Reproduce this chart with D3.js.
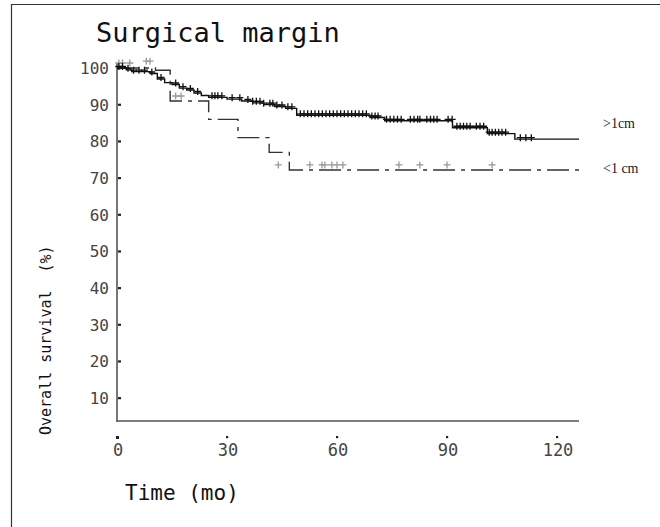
<!doctype html>
<html lang="en">
<head>
  <meta charset="utf-8">
  <title>Surgical margin</title>
  <script src="https://d3js.org/d3.v7.min.js"></script>
  <style>
    body { margin: 0; background: #fff; }
    svg { display: block; }
    .mono { font-family: 'DejaVu Sans Mono', monospace; }
  </style>
</head>
<body>
<svg id="chart" width="660" height="527"></svg>
<script>
// >1cm group (solid), step times (mo) and survival (%)
const wideT = [0, 2.5, 4, 9, 11, 13, 15, 17, 19, 21, 23, 25, 30, 34, 37, 40, 43, 46, 49, 69, 73, 91.5, 101, 108.5, 126];
const wideS = [100, 99.5, 99, 98.5, 97, 96, 95.5, 94.5, 94, 93.2, 92.5, 92, 91.5, 91, 90.5, 90, 89.5, 89, 87.1, 86.5, 85.6, 83.7, 82.1, 80.6, 80.6];
const wideCensor = [0.5, 1.5, 3, 4.5, 6, 7.5, 9.5, 12, 16, 18, 20, 22, 25.9, 26.7, 27.5, 28.6, 31.4, 33.5, 35.7,
  37, 38, 39, 40, 41.7, 42.5, 43.6, 45, 46.6, 47.7, 50, 51, 52, 53, 54, 55, 56, 57, 58, 59, 60, 61, 62, 63,
  64, 65, 66, 67, 68, 69.5, 70.4, 71.2, 73.5, 74.5, 75.5, 76.5, 77.5, 80, 81, 82, 82.6, 84.5, 85.5, 86.4, 87.3,
  90.3, 91.4, 92.7, 93.6, 94.5, 95.4, 96.3, 98, 99, 100, 101.5, 102.3, 103.2, 104.1, 105, 106, 110, 111.5, 113];

// <1 cm group (dash-dot)
const narrowT = [0, 10.5, 14.5, 25, 33, 41.5, 47, 126];
const narrowS = [100, 99.4, 91, 86, 81, 77, 72.2, 72.2];
const narrowCensorT = [0.5, 1.5, 3.5, 8, 9, 16, 17.5, 44, 52.6, 55.9, 56.7, 58.6, 60, 61.6, 76.9, 82.6, 90, 102.3];
const narrowCensorS = [100, 100, 100, 100.5, 100.5, 91, 91, 72.2, 72.2, 72.2, 72.2, 72.2, 72.2, 72.2, 72.2, 72.2, 72.2, 72.2];

const xTicks = [0, 30, 60, 90, 120];
const yTicks = [10, 20, 30, 40, 50, 60, 70, 80, 90, 100];

const svg = d3.select("#chart");

// frame
svg.append("path").attr("d", "M11.5,527V4.5H660").attr("fill", "none").attr("stroke", "#333").attr("stroke-width", 1.2);

const x = d3.scaleLinear().domain([0, 126]).range([117, 579]);
const y = d3.scaleLinear().domain([0, 100]).range([434.7, 68]);

// axes lines
svg.append("line").attr("x1", x(0)).attr("x2", x(0)).attr("y1", 63).attr("y2", 422)
  .attr("stroke", "#555").attr("stroke-width", 1.6);
svg.append("line").attr("x1", x(0)).attr("x2", x(126)).attr("y1", 421).attr("y2", 421)
  .attr("stroke", "#555").attr("stroke-width", 1.6);

// y ticks + labels
svg.selectAll("rect.yt").data(yTicks).enter().append("rect")
  .attr("x", x(0) + 1).attr("y", d => y(d) - 1).attr("width", 3).attr("height", 2.2).attr("fill", "#222");
svg.selectAll("text.yl").data(yTicks).enter().append("text")
  .attr("class", "mono").attr("x", 109).attr("y", d => y(d) + 6)
  .attr("text-anchor", "end").attr("font-size", 16).attr("fill", "#444")
  .text(d => d);

// x ticks + labels
svg.selectAll("rect.xt").data(xTicks).enter().append("rect")
  .attr("x", d => x(d) - 1).attr("y", 436).attr("width", d => d === 0 ? 3 : 2.2).attr("height", d => d === 0 ? 3 : 2.2)
  .attr("fill", "#222");
svg.selectAll("text.xl").data(xTicks).enter().append("text")
  .attr("class", "mono").attr("x", d => x(d) + 1).attr("y", 456)
  .attr("text-anchor", "middle").attr("font-size", 17).attr("fill", "#444")
  .text(d => d);

// curves
const line = d3.line().x(d => x(d[0])).y(d => y(d[1])).curve(d3.curveStepAfter);
const wide = wideT.map((t, i) => [t, wideS[i]]);
const narrow = narrowT.map((t, i) => [t, narrowS[i]]);

svg.append("path").attr("d", line(narrow)).attr("fill", "none")
  .attr("stroke", "#333").attr("stroke-width", 1.4).attr("stroke-dasharray", "22,6,4,6");
svg.append("path").attr("d", line(wide)).attr("fill", "none")
  .attr("stroke", "#111").attr("stroke-width", 1.4);

function stepValue(ts, ss, t) {
  const i = d3.bisectRight(ts, t) - 1;
  return ss[Math.max(0, i)];
}

function plus(g, cx, cy, r, color, w) {
  g.append("path").attr("d", `M${cx - r},${cy}H${cx + r}M${cx},${cy - r}V${cy + r}`)
    .attr("stroke", color).attr("stroke-width", w).attr("fill", "none");
}

const marks = svg.append("g");
narrowCensorT.forEach((t, i) => plus(marks, x(t), y(narrowCensorS[i]) - 5, 3.5, "#999", 1.3));
wideCensor.forEach(t => plus(marks, x(t), y(stepValue(wideT, wideS, t)) - 1.5, 3.5, "#111", 1.3));

// legend labels
svg.append("text").attr("x", 603).attr("y", 128).attr("font-family", "'Liberation Serif', serif")
  .attr("font-size", 14).attr("fill", "#222").text(">1cm");
svg.append("text").attr("x", 603).attr("y", 173).attr("font-family", "'Liberation Serif', serif")
  .attr("font-size", 14).attr("fill", "#222").text("<1 cm");

// title and axis titles
svg.append("text").attr("class", "mono").attr("x", 96).attr("y", 42)
  .attr("font-size", 27).attr("fill", "#111").text("Surgical margin");
svg.append("text").attr("class", "mono").attr("x", 125).attr("y", 500)
  .attr("font-size", 21).attr("fill", "#111").text("Time (mo)");
svg.append("text").attr("class", "mono")
  .attr("transform", "translate(51,435) rotate(-90)")
  .attr("font-size", 15).attr("fill", "#111").attr("xml:space", "preserve")
  .style("white-space", "pre").text("Overall survival  (%)");
</script>
</body>
</html>
